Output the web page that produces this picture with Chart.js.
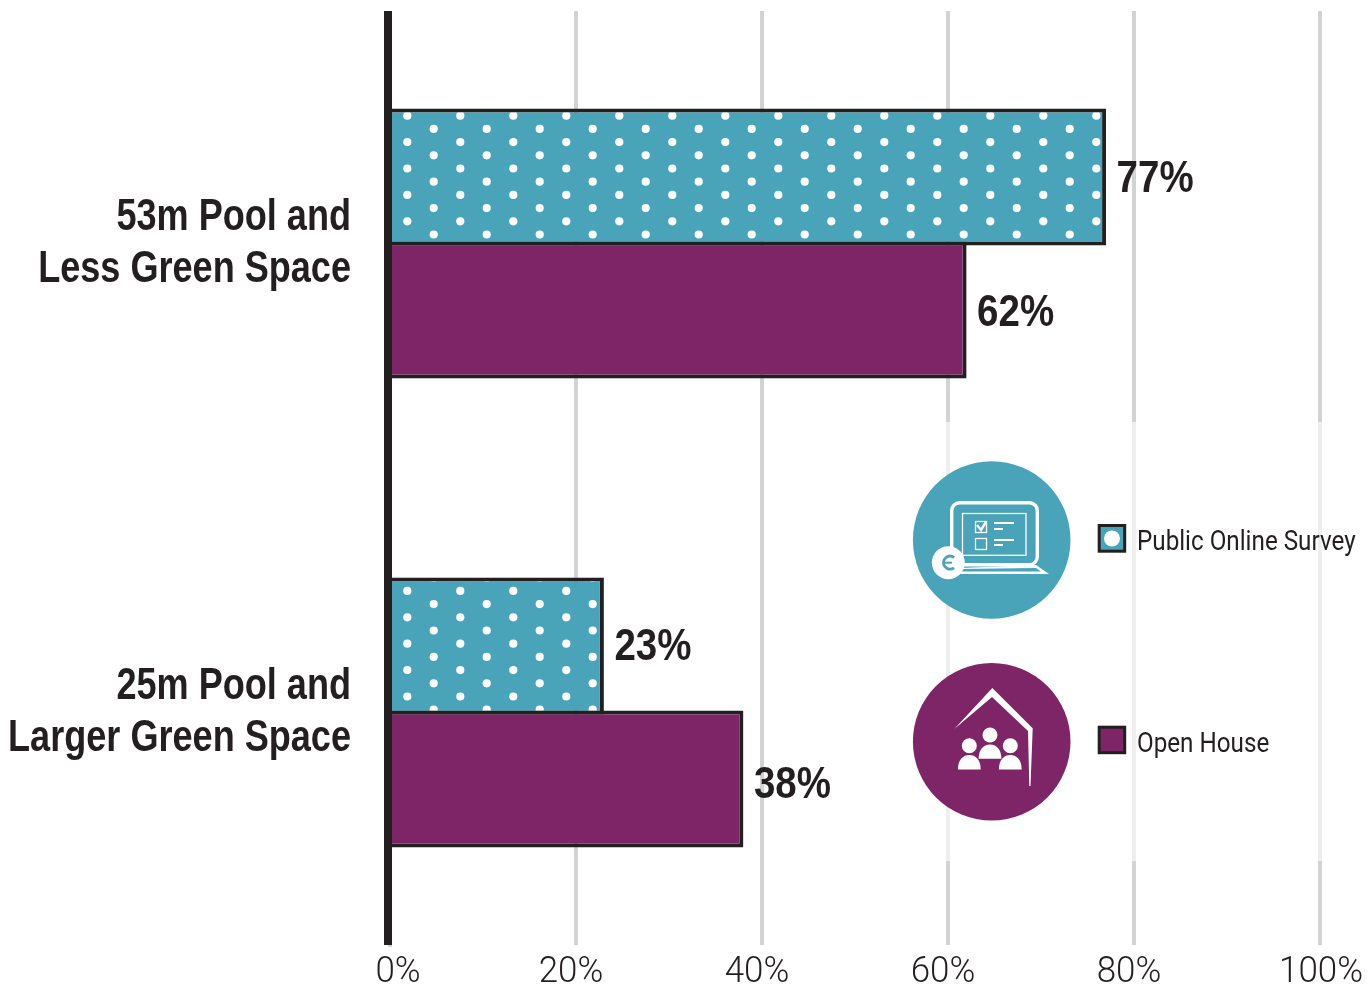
<!DOCTYPE html>
<html><head><meta charset="utf-8">
<style>html,body{margin:0;padding:0;background:#fff}#w{width:1371px;height:985px}canvas{display:block}</style>
<script src="https://cdn.jsdelivr.net/npm/chart.js@4/dist/chart.umd.js"></script>
</head><body><div id="w"><canvas id="c" width="1371" height="985"></canvas></div>
<script>
const categories = [["53m Pool and","Less Green Space"],["25m Pool and","Larger Green Space"]];
const surveyName = "Public Online Survey";
const houseName = "Open House";
const surveyValues = [77,23];
const houseValues = [62,38];
const xTicks = [0,20,40,60,80,100];
const TEAL="#49a3b9",PURPLE="#7e2567",DARK="#231f20",GRID="#d1d3d4";
const BOLD="'Liberation Sans',sans-serif", LIGHT="Roboto,'Liberation Sans',sans-serif";
const xLabelNudge=[8,-5,-5,-5,-5,1];
const valueLabelNudge=[[3,2],[4,7]];

const ctx=document.getElementById('c').getContext('2d');
// condensed type: no condensed family is installed, so text is narrowed horizontally
const origFill=ctx.fillText.bind(ctx), origMeasure=ctx.measureText.bind(ctx);
let sxOverride=null;
const sx=()=>sxOverride!==null?sxOverride:(/bold|700/.test(ctx.font)?0.82:0.97);
ctx.fillText=function(t,x,y){const k=sx();ctx.save();ctx.translate(x,y);ctx.scale(k,1);origFill(t,0,0);ctx.restore();};
ctx.measureText=function(t){const m=origMeasure(t);return {width:m.width*sx(),actualBoundingBoxAscent:m.actualBoundingBoxAscent,actualBoundingBoxDescent:m.actualBoundingBoxDescent};};

function dots(){
  const t=document.createElement('canvas');t.width=53;t.height=132;
  const g=t.getContext('2d');g.fillStyle=TEAL;g.fillRect(0,0,53,132);g.fillStyle='#fff';
  const dot=(x,y)=>{[y,y-132].forEach(v=>{g.beginPath();g.arc(x,v,4.1,0,7);g.fill();});};
  for(let k=0;k<5;k++){dot(36.3,10.1+26.4*k);dot(9.7,23.3+26.4*k);}
  return ctx.createPattern(t,'repeat');
}
function disc(c,cx,cy,r,col){c.fillStyle=col;c.beginPath();c.arc(cx,cy,r,0,Math.PI*2);c.fill();}
function surveyIcon(c){
  disc(c,991.7,540,78.8,TEAL);
  c.strokeStyle='#fff';c.fillStyle='#fff';c.lineWidth=3.4;
  c.beginPath();c.roundRect(951.7,502.7,85.6,62,8);c.stroke();
  c.lineWidth=1.3;c.strokeRect(962.5,513.5,63.5,41.8);
  c.strokeRect(975.5,521.5,11,11);c.strokeRect(975.5,538.5,11,11);
  c.lineWidth=2.4;c.beginPath();c.moveTo(977,525);c.lineTo(981,530);c.lineTo(986,522);c.stroke();
  c.lineWidth=2;c.beginPath();c.moveTo(994,523);c.lineTo(1014,523);c.moveTo(994,529);c.lineTo(1003,529);c.moveTo(994,540);c.lineTo(1014,540);c.moveTo(994,545);c.lineTo(1003,545);c.stroke();
  c.beginPath();c.moveTo(960,568);c.lineTo(1036,565);c.lineTo(1049,574);c.lineTo(960,574);c.closePath();c.fill();
  c.fillStyle=TEAL;c.beginPath();c.moveTo(1036,568);c.lineTo(1041,571.5);c.lineTo(960,571.5);c.lineTo(960,569);c.closePath();c.fill();
  c.fillStyle='#fff';c.beginPath();c.arc(948.3,562.7,16.5,0,7);c.fill();
  c.strokeStyle=TEAL;c.lineWidth=2.8;c.beginPath();c.arc(950,562.7,6.5,0.9,Math.PI*2-0.9,false);c.stroke();
  c.lineWidth=2;c.beginPath();c.moveTo(944,562.7);c.lineTo(952,562.7);c.stroke();
}
function houseIcon(c){
  disc(c,991.7,741.7,78.8,PURPLE);
  c.fillStyle='#fff';
  c.beginPath();c.moveTo(954.3,729);c.lineTo(992.3,688);c.lineTo(1032.7,728.3);c.lineTo(1030.5,786);c.lineTo(1029.3,786);c.lineTo(1028,731);c.lineTo(992,697);c.closePath();c.fill();
  const person=(x,y)=>{c.beginPath();c.arc(x,y,7.5,0,7);c.fill();
    c.beginPath();c.moveTo(x-11.4,y+23.7);c.bezierCurveTo(x-11.4,y+14,x-6,y+9.4,x,y+9.4);c.bezierCurveTo(x+6,y+9.4,x+11.4,y+14,x+11.4,y+23.7);c.closePath();c.fill();};
  person(969.3,745.7);person(1010.3,745.7);person(990,735);
}
const overlay={id:'overlay',
  beforeDraw(ch){ch.scales.x.getLabelItems(ch.chartArea).forEach((it,i)=>{it.options.translation[0]+=xLabelNudge[i];});},
  beforeDatasetsDraw(ch){const c=ch.ctx;c.save();
    c.fillStyle='rgba(255,255,255,0.62)';c.fillRect(900,422,471,439);
    c.fillStyle='#fff';c.fillRect(0,0,1371,11);c.fillRect(392,945,979,3);
    c.restore();},
  afterDatasetsDraw(ch){
    const c=ch.ctx;c.save();
    c.fillStyle=DARK;c.fillRect(384,11,8,934);
    sxOverride=0.875;
    [0,1].forEach(d=>{ch.getDatasetMeta(d).data.forEach((el,i)=>{
      c.font="bold 44px "+BOLD;c.fillStyle=DARK;c.textAlign='left';c.textBaseline='middle';
      c.fillText(ch.data.datasets[d].data[i]+'%',el.x+10.5,el.y+valueLabelNudge[d][i]);
    });});
    sxOverride=null;
    surveyIcon(c);houseIcon(c);
    c.lineWidth=3;c.strokeStyle=DARK;
    c.fillStyle=TEAL;c.fillRect(1099.2,525.5,25.5,25.7);c.strokeRect(1099.2,525.5,25.5,25.7);
    c.fillStyle='#fff';c.beginPath();c.arc(1112,538.5,8,0,7);c.fill();
    c.fillStyle=PURPLE;c.fillRect(1099.2,727.2,25.5,25.5);c.strokeRect(1099.2,727.2,25.5,25.5);
    c.fillStyle=DARK;c.font="28px "+LIGHT;c.textAlign='left';c.textBaseline='alphabetic';
    sxOverride=0.865;
    c.fillText(ch.data.datasets[0].label,1137,550);c.fillText(ch.data.datasets[1].label,1137,752);
    sxOverride=null;
    c.restore();
  }};
const pat=dots();
new Chart(ctx,{type:'bar',plugins:[overlay],
  data:{labels:categories,datasets:[
    {label:surveyName,data:surveyValues,backgroundColor:pat,borderColor:DARK,borderWidth:4},
    {label:houseName,data:houseValues,backgroundColor:PURPLE,borderColor:DARK,borderWidth:4}]},
  options:{indexAxis:'y',responsive:false,animation:false,devicePixelRatio:1,
    layout:{padding:{top:9,right:51,left:0,bottom:0}},
    datasets:{bar:{categoryPercentage:0.567,barPercentage:1.03}},
    plugins:{legend:{display:false},tooltip:{enabled:false},title:{display:false}},
    scales:{
      x:{type:'linear',min:0,max:100,afterBuildTicks(s){s.ticks=xTicks.map(v=>({value:v}));},
        afterFit(s){s.height=38;s.paddingLeft=0;s.paddingRight=0;},
        grid:{color:GRID,lineWidth:4,drawTicks:false},border:{display:false},
        ticks:{padding:4,color:DARK,maxRotation:0,autoSkip:false,font:{family:LIGHT,size:36,weight:'300'},callback:v=>v+'%'}},
      y:{type:'category',afterFit(s){s.width=390;s.paddingTop=0;s.paddingBottom=0;},
        grid:{display:false,drawTicks:false},border:{display:false},
        ticks:{padding:39,color:DARK,autoSkip:false,font:{family:BOLD,size:44,weight:'bold',lineHeight:1.18}}}
    }}});
</script></body></html>
